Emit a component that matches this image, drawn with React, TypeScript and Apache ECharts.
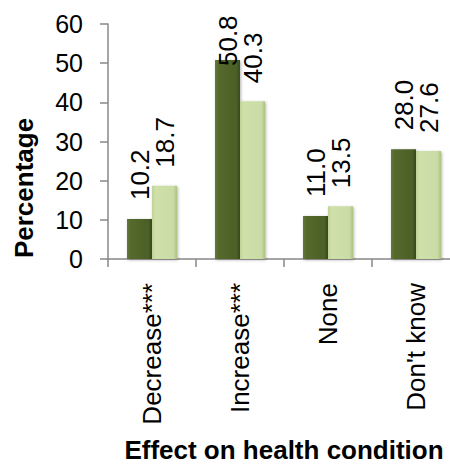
import React, { useEffect, useRef } from "react";
import * as echarts from "echarts";

const categories = ["Decrease***", "Increase***", "None", "Don't know"];
const seriesA = [10.2, 50.8, 11.0, 28.0];
const seriesB = [18.7, 40.3, 13.5, 27.6];
const yTicks = { min: 0, max: 60, interval: 10 };
const xName = "Effect on health condition";
const yName = "Percentage";

const FONT = "'Liberation Sans', Arial, sans-serif";

export default function App() {
  const ref = useRef<HTMLDivElement>(null);
  useEffect(() => {
    document.body.style.margin = "0";
    const chart = echarts.init(ref.current!, null, { renderer: "svg" });
    const labelBase = {
      show: true,
      position: "top",
      rotate: 90,
      align: "left",
      verticalAlign: "middle",
      distance: 16,
      fontSize: 26,
      fontFamily: FONT,
      color: "#000",
      formatter: (p: any) => Number(p.value).toFixed(1),
    };
    const mkData = (arr: number[]) =>
      arr.map((v) => (v > 45 ? { value: v, label: { distance: -9 } } : v));
    const darkGrad = new echarts.graphic.LinearGradient(0, 0, 1, 0, [
      { offset: 0, color: "#62793a" },
      { offset: 0.15, color: "#55692c" },
      { offset: 0.85, color: "#4c5f26" },
      { offset: 1, color: "#3a4a1c" },
    ]);
    const lightGrad = new echarts.graphic.LinearGradient(0, 0, 1, 0, [
      { offset: 0, color: "#bfd296" },
      { offset: 0.15, color: "#cfe0ab" },
      { offset: 0.85, color: "#cadca5" },
      { offset: 1, color: "#adc282" },
    ]);
    chart.setOption({
      animation: false,
      grid: { left: 108, top: 24, width: 352, height: 235, outerBoundsMode: "none", containLabel: false },
      xAxis: {
        type: "category",
        data: categories,
        name: xName,
        nameLocation: "middle",
        nameGap: 178,
        nameTextStyle: { fontSize: 26, fontWeight: "bold", fontFamily: FONT, color: "#000" },
        axisLine: { lineStyle: { color: "#888", width: 1.5 } },
        axisTick: { show: true, length: 8, lineStyle: { color: "#888", width: 1.5 } },
        axisLabel: { rotate: 90, fontSize: 26, fontFamily: FONT, color: "#000", margin: 24 },
      },
      yAxis: {
        type: "value",
        min: yTicks.min,
        max: yTicks.max,
        interval: yTicks.interval,
        axisLine: { show: true, lineStyle: { color: "#888", width: 1.5 } },
        axisTick: { show: true, length: 8, lineStyle: { color: "#888", width: 1.5 } },
        splitLine: { show: false },
        axisLabel: { fontSize: 25, fontFamily: FONT, color: "#000", margin: 25 },
      },
      graphic: [
        {
          type: "text",
          x: 24,
          y: 188,
          rotation: Math.PI / 2,
          style: {
            text: yName,
            align: "center",
            verticalAlign: "middle",
            font: `bold 26px ${FONT}`,
            fill: "#000",
          },
        },
      ],
      series: [
        {
          type: "bar",
          data: mkData(seriesA),
          barWidth: 25,
          barGap: "0%",
          itemStyle: {
            color: darkGrad,
            shadowBlur: 3,
            shadowColor: "rgba(0,0,0,0.3)",
            shadowOffsetX: 1,
            shadowOffsetY: 1,
          },
          label: { ...labelBase, offset: [3, 0] },
        },
        {
          type: "bar",
          data: mkData(seriesB),
          barWidth: 25,
          itemStyle: {
            color: lightGrad,
            shadowBlur: 3,
            shadowColor: "rgba(0,0,0,0.3)",
            shadowOffsetX: 1,
            shadowOffsetY: 1,
          },
          label: { ...labelBase, offset: [2, 0] },
        },
      ],
    });
    return () => chart.dispose();
  }, []);
  return <div ref={ref} style={{ width: 450, height: 466 }} />;
}
